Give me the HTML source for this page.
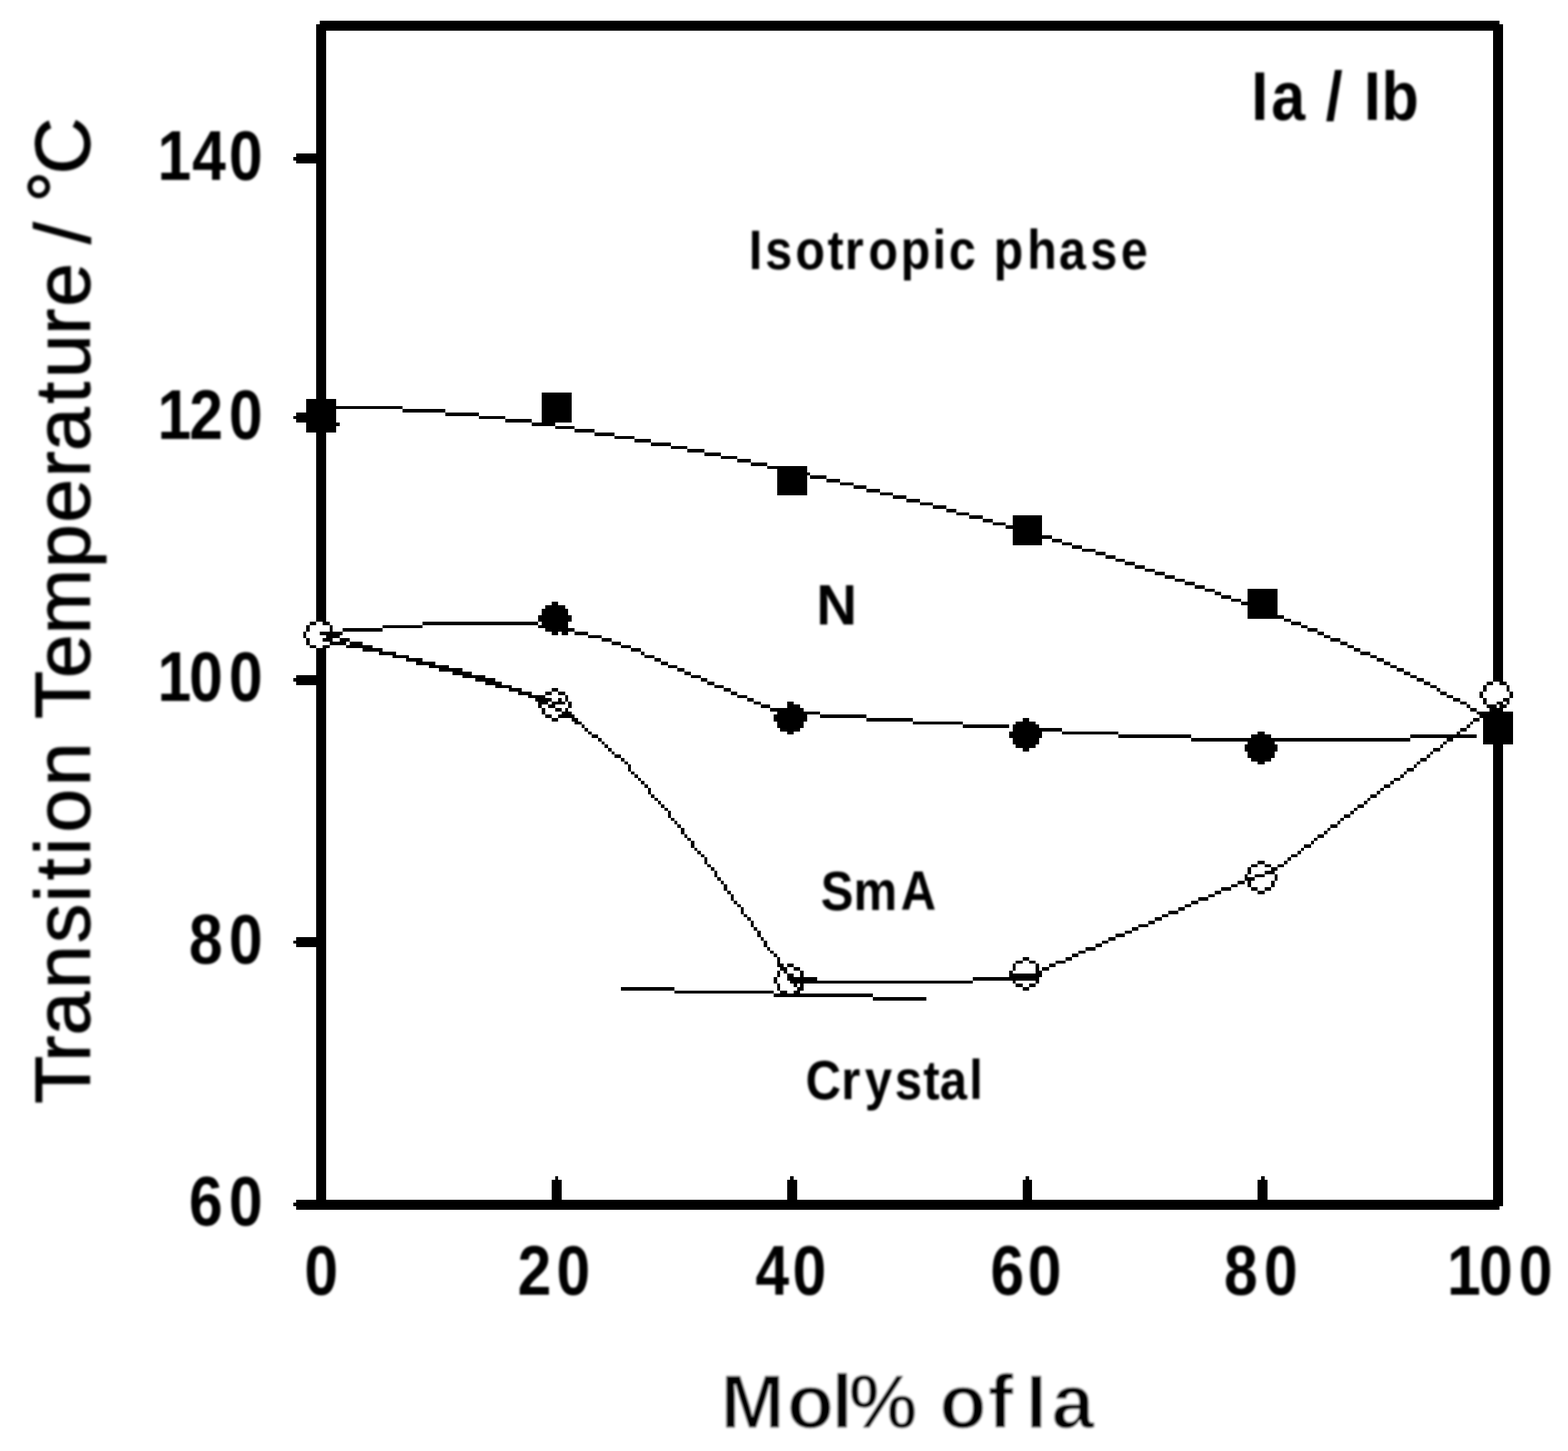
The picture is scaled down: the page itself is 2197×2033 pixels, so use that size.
<!DOCTYPE html>
<html lang="en">
<head>
<meta charset="utf-8">
<title>Phase diagram Ia / Ib</title>
<style>
html,body{margin:0;padding:0;background:#fff;}
body{width:2197px;height:2033px;overflow:hidden;}
svg{display:block;}
text{font-family:"Liberation Sans",Arial,Helvetica,sans-serif;}
</style>
</head>
<body>
<svg xmlns="http://www.w3.org/2000/svg" width="2197" height="2033" viewBox="0 0 2197 2033">
<rect width="2197" height="2033" fill="#fff"/>
<path id="plot" shape-rendering="crispEdges" fill="#000" d="M447.80 29.12h1653.55v4.65h-1653.55zM443.16 33.78h1662.84v9.30h-1662.84zM443.16 43.08h13.93v172.13h-13.93zM415.29 215.21h41.80v4.65h-41.80zM410.64 219.86h46.45v4.65h-46.45zM415.29 224.52h41.80v4.65h-41.80zM443.16 229.17h13.93v330.31h-13.93zM429.22 559.47h41.80v9.30h-41.80zM429.22 568.78h134.70v4.65h-134.70zM563.92 573.43h60.38v4.65h-60.38zM429.22 573.43h41.80v4.65h-41.80zM415.29 578.08h55.74v4.65h-55.74zM624.30 578.08h46.45v4.65h-46.45zM410.64 582.74h60.38v4.65h-60.38zM670.75 582.74h37.16v4.65h-37.16zM759.00 550.17h41.80v41.87h-41.80zM707.91 587.39h37.16v4.65h-37.16zM415.29 587.39h55.74v4.65h-55.74zM745.07 592.04h32.51v4.65h-32.51zM429.22 592.04h46.45v4.65h-46.45zM777.58 596.69h27.87v4.65h-27.87zM429.22 596.69h41.80v9.30h-41.80zM805.45 601.34h27.87v4.65h-27.87zM833.32 606.00h27.87v4.65h-27.87zM861.19 610.65h27.87v4.65h-27.87zM889.06 615.30h23.22v4.65h-23.22zM912.28 619.95h27.87v4.65h-27.87zM940.15 624.60h23.22v4.65h-23.22zM963.37 629.26h23.22v4.65h-23.22zM986.60 633.91h23.22v4.65h-23.22zM1009.82 638.56h23.22v4.65h-23.22zM1033.05 643.21h18.58v4.65h-18.58zM1051.62 647.87h23.22v4.65h-23.22zM1074.85 652.52h55.74v4.65h-55.74zM1088.78 657.17h41.80v4.65h-41.80zM1088.78 661.82h46.45v4.65h-46.45zM1135.23 666.47h23.22v4.65h-23.22zM1158.46 671.13h18.58v4.65h-18.58zM1177.03 675.78h18.58v4.65h-18.58zM1195.61 680.43h18.58v4.65h-18.58zM1214.19 685.08h18.58v4.65h-18.58zM1088.78 666.47h41.80v27.91h-41.80zM1232.77 689.74h18.58v4.65h-18.58zM1251.35 694.39h18.58v4.65h-18.58zM1269.93 699.04h18.58v4.65h-18.58zM1288.51 703.69h18.58v4.65h-18.58zM1307.09 708.34h18.58v4.65h-18.58zM1325.67 713.00h13.93v4.65h-13.93zM1339.60 717.65h18.58v4.65h-18.58zM1358.18 722.30h18.58v4.65h-18.58zM1376.76 726.95h13.93v4.65h-13.93zM1418.56 722.30h41.80v13.96h-41.80zM1390.70 731.61h18.58v4.65h-18.58zM1409.27 736.26h51.09v4.65h-51.09zM1418.56 740.91h41.80v9.30h-41.80zM1418.56 750.21h55.74v4.65h-55.74zM1474.30 754.87h13.93v4.65h-13.93zM1418.56 754.87h41.80v9.30h-41.80zM1488.24 759.52h13.93v4.65h-13.93zM1502.17 764.17h13.93v4.65h-13.93zM1516.10 768.82h18.58v4.65h-18.58zM1534.68 773.48h13.93v4.65h-13.93zM1548.62 778.13h13.93v4.65h-13.93zM1562.55 782.78h13.93v4.65h-13.93zM1576.49 787.43h13.93v4.65h-13.93zM1590.42 792.08h13.93v4.65h-13.93zM1604.36 796.74h13.93v4.65h-13.93zM1618.29 801.39h13.93v4.65h-13.93zM1632.22 806.04h13.93v4.65h-13.93zM1646.16 810.69h13.93v4.65h-13.93zM1660.09 815.35h13.93v4.65h-13.93zM1674.03 820.00h13.93v4.65h-13.93zM1687.96 824.65h13.93v4.65h-13.93zM1701.90 829.30h9.29v4.65h-9.29zM1711.19 833.95h13.93v4.65h-13.93zM1748.34 824.65h41.80v18.61h-41.80zM1725.12 838.61h13.93v4.65h-13.93zM1739.06 843.26h51.09v4.65h-51.09zM772.94 843.26h9.29v4.65h-9.29zM763.65 847.91h27.87v4.65h-27.87zM1748.34 847.91h41.80v13.96h-41.80zM759.00 852.56h37.16v9.30h-37.16zM1748.34 861.87h51.09v4.65h-51.09zM443.16 606.00h13.93v265.18h-13.93zM754.36 861.87h46.45v9.30h-46.45zM1799.44 866.52h9.29v4.65h-9.29zM759.00 871.17h37.16v4.65h-37.16zM433.87 871.17h9.29v4.65h-9.29zM1808.73 871.17h13.93v4.65h-13.93zM452.45 871.17h9.29v4.65h-9.29zM591.79 871.17h162.57v4.65h-162.57zM754.36 875.82h41.80v4.65h-41.80zM536.05 875.82h55.74v4.65h-55.74zM1822.66 875.82h9.29v4.65h-9.29zM461.74 875.82h4.64v9.30h-4.64zM429.22 875.82h4.64v9.30h-4.64zM1831.95 880.48h13.93v4.65h-13.93zM763.65 880.48h41.80v4.65h-41.80zM480.31 880.48h55.74v4.65h-55.74zM772.94 885.13h9.29v4.65h-9.29zM786.87 885.13h9.29v4.65h-9.29zM447.80 885.13h32.51v4.65h-32.51zM805.45 885.13h18.58v4.65h-18.58zM1845.89 885.13h9.29v4.65h-9.29zM424.58 885.13h4.64v9.30h-4.64zM824.03 889.78h18.58v4.65h-18.58zM1855.18 889.78h9.29v4.65h-9.29zM457.09 889.78h18.58v4.65h-18.58zM452.45 894.43h13.93v4.65h-13.93zM842.61 894.43h13.93v4.65h-13.93zM1864.46 894.43h13.93v4.65h-13.93zM475.67 894.43h13.93v4.65h-13.93zM429.22 894.43h4.64v9.30h-4.64zM489.60 899.08h18.58v4.65h-18.58zM1878.40 899.08h9.29v4.65h-9.29zM461.74 899.08h23.22v4.65h-23.22zM856.54 899.08h13.93v4.65h-13.93zM870.48 903.74h13.93v4.65h-13.93zM433.87 903.74h9.29v4.65h-9.29zM484.96 903.74h37.16v4.65h-37.16zM1887.69 903.74h9.29v4.65h-9.29zM452.45 903.74h9.29v4.65h-9.29zM508.18 908.39h27.87v4.65h-27.87zM884.41 908.39h13.93v4.65h-13.93zM1896.98 908.39h9.29v4.65h-9.29zM1906.27 913.04h13.93v4.65h-13.93zM898.35 913.04h4.64v4.65h-4.64zM531.41 913.04h23.22v4.65h-23.22zM902.99 917.69h13.93v4.65h-13.93zM1920.20 917.69h9.29v4.65h-9.29zM549.99 917.69h23.22v4.65h-23.22zM568.57 922.35h23.22v4.65h-23.22zM916.93 922.35h9.29v4.65h-9.29zM1929.49 922.35h9.29v4.65h-9.29zM582.50 927.00h27.87v4.65h-27.87zM926.22 927.00h9.29v4.65h-9.29zM1938.78 927.00h9.29v4.65h-9.29zM1948.07 931.65h9.29v4.65h-9.29zM935.50 931.65h13.93v4.65h-13.93zM601.08 931.65h27.87v4.65h-27.87zM615.01 936.30h32.51v4.65h-32.51zM949.44 936.30h9.29v4.65h-9.29zM1957.36 936.30h9.29v4.65h-9.29zM443.16 908.39h13.93v37.22h-13.93zM1966.65 940.95h9.29v4.65h-9.29zM633.59 940.95h27.87v4.65h-27.87zM958.73 940.95h9.29v4.65h-9.29zM968.02 945.61h13.93v4.65h-13.93zM1975.94 945.61h9.29v4.65h-9.29zM415.29 945.61h41.80v4.65h-41.80zM647.53 945.61h32.51v4.65h-32.51zM2092.06 43.08h13.93v911.83h-13.93zM1985.23 950.26h9.29v4.65h-9.29zM981.95 950.26h9.29v4.65h-9.29zM666.11 950.26h27.87v4.65h-27.87zM410.64 950.26h46.45v4.65h-46.45zM680.04 954.91h23.22v4.65h-23.22zM2101.35 954.91h9.29v4.65h-9.29zM1994.52 954.91h9.29v4.65h-9.29zM991.24 954.91h9.29v4.65h-9.29zM2082.77 954.91h9.29v4.65h-9.29zM415.29 954.91h41.80v4.65h-41.80zM1000.53 959.56h13.93v4.65h-13.93zM693.98 959.56h23.22v4.65h-23.22zM2003.81 959.56h9.29v4.65h-9.29zM2110.64 959.56h4.64v9.30h-4.64zM2078.13 959.56h4.64v9.30h-4.64zM1014.47 964.22h9.29v4.65h-9.29zM2013.10 964.22h4.64v4.65h-4.64zM772.94 964.22h9.29v4.65h-9.29zM712.55 964.22h18.58v4.65h-18.58zM1023.76 968.87h9.29v4.65h-9.29zM726.49 968.87h18.58v4.65h-18.58zM782.23 968.87h9.29v4.65h-9.29zM2017.74 968.87h9.29v4.65h-9.29zM763.65 968.87h9.29v4.65h-9.29zM2073.48 968.87h4.64v9.30h-4.64zM2115.28 968.87h4.64v9.30h-4.64zM740.42 973.52h23.22v4.65h-23.22zM2027.03 973.52h9.29v4.65h-9.29zM1033.05 973.52h13.93v4.65h-13.93zM791.52 973.52h4.64v9.30h-4.64zM2036.32 978.17h9.29v4.65h-9.29zM749.71 978.17h23.22v4.65h-23.22zM1046.98 978.17h9.29v4.65h-9.29zM2105.99 978.17h9.29v4.65h-9.29zM782.23 978.17h4.64v4.65h-4.64zM2078.13 978.17h4.64v9.30h-4.64zM754.36 982.82h13.93v4.65h-13.93zM1056.27 982.82h9.29v4.65h-9.29zM2096.70 982.82h9.29v4.65h-9.29zM772.94 982.82h18.58v4.65h-18.58zM2110.64 982.82h4.64v4.65h-4.64zM1102.72 982.82h9.29v4.65h-9.29zM2045.61 982.82h9.29v4.65h-9.29zM796.16 982.82h4.64v9.30h-4.64zM2082.77 987.48h13.93v4.65h-13.93zM2101.35 987.48h9.29v4.65h-9.29zM768.29 987.48h9.29v4.65h-9.29zM2054.90 987.48h4.64v4.65h-4.64zM1102.72 987.48h18.58v4.65h-18.58zM754.36 987.48h4.64v4.65h-4.64zM1065.56 987.48h13.93v4.65h-13.93zM1079.49 992.13h46.45v4.65h-46.45zM2087.42 992.13h18.58v4.65h-18.58zM2059.55 992.13h9.29v4.65h-9.29zM777.58 992.13h9.29v4.65h-9.29zM791.52 992.13h4.64v4.65h-4.64zM759.00 992.13h4.64v9.30h-4.64zM786.87 996.78h13.93v4.65h-13.93zM1088.78 996.78h60.38v4.65h-60.38zM2068.84 996.78h51.09v4.65h-51.09zM1149.17 1001.43h65.03v4.65h-65.03zM2073.48 1001.43h46.45v4.65h-46.45zM782.23 1001.43h23.22v4.65h-23.22zM763.65 1001.43h9.29v4.65h-9.29zM1084.14 1001.43h46.45v9.30h-46.45zM772.94 1006.09h9.29v4.65h-9.29zM800.81 1006.09h9.29v4.65h-9.29zM1432.50 1006.09h9.29v4.65h-9.29zM2064.19 1006.09h9.29v4.65h-9.29zM1214.19 1006.09h65.03v4.65h-65.03zM2059.55 1010.74h4.64v4.65h-4.64zM805.45 1010.74h9.29v4.65h-9.29zM1279.22 1010.74h69.67v4.65h-69.67zM1423.21 1010.74h27.87v4.65h-27.87zM1088.78 1010.74h37.16v9.30h-37.16zM1348.89 1015.39h65.03v4.65h-65.03zM2054.90 1015.39h4.64v4.65h-4.64zM814.74 1015.39h4.64v4.65h-4.64zM1418.56 1015.39h37.16v4.65h-37.16zM819.38 1020.04h4.64v4.65h-4.64zM1093.43 1020.04h27.87v4.65h-27.87zM1418.56 1020.04h69.67v4.65h-69.67zM2045.61 1020.04h9.29v4.65h-9.29zM2040.97 1024.69h4.64v4.65h-4.64zM1488.24 1024.69h78.96v4.65h-78.96zM824.03 1024.69h4.64v4.65h-4.64zM1762.28 1024.69h9.29v4.65h-9.29zM1102.72 1024.69h9.29v4.65h-9.29zM1413.92 1024.69h46.45v9.30h-46.45zM1975.94 1029.35h92.90v4.65h-92.90zM828.67 1029.35h9.29v4.65h-9.29zM1752.99 1029.35h27.87v4.65h-27.87zM1567.20 1029.35h102.19v4.65h-102.19zM2027.03 1034.00h9.29v4.65h-9.29zM837.96 1034.00h4.64v4.65h-4.64zM1669.38 1034.00h306.56v4.65h-306.56zM2078.13 1006.09h41.80v37.22h-41.80zM1418.56 1034.00h37.16v9.30h-37.16zM2022.39 1038.65h4.64v4.65h-4.64zM1748.34 1038.65h37.16v4.65h-37.16zM842.61 1038.65h4.64v4.65h-4.64zM2017.74 1043.30h4.64v4.65h-4.64zM847.25 1043.30h4.64v4.65h-4.64zM1423.21 1043.30h27.87v4.65h-27.87zM1743.70 1043.30h46.45v9.30h-46.45zM851.90 1047.95h4.64v4.65h-4.64zM2008.45 1047.95h9.29v4.65h-9.29zM1432.50 1047.95h9.29v4.65h-9.29zM2003.81 1052.61h4.64v4.65h-4.64zM856.54 1052.61h4.64v4.65h-4.64zM1748.34 1052.61h37.16v9.30h-37.16zM861.19 1057.26h9.29v4.65h-9.29zM1999.16 1057.26h4.64v4.65h-4.64zM1752.99 1061.91h27.87v4.65h-27.87zM1989.87 1061.91h9.29v4.65h-9.29zM870.48 1061.91h4.64v4.65h-4.64zM1985.23 1066.56h4.64v4.65h-4.64zM875.12 1066.56h4.64v4.65h-4.64zM1762.28 1066.56h9.29v4.65h-9.29zM1980.58 1071.22h4.64v4.65h-4.64zM879.77 1071.22h4.64v9.30h-4.64zM1971.30 1075.87h9.29v4.65h-9.29zM884.41 1080.52h4.64v4.65h-4.64zM1966.65 1080.52h4.64v4.65h-4.64zM889.06 1085.17h4.64v4.65h-4.64zM1962.01 1085.17h4.64v4.65h-4.64zM1952.72 1089.82h9.29v4.65h-9.29zM893.70 1089.82h4.64v4.65h-4.64zM898.35 1094.48h4.64v4.65h-4.64zM1948.07 1094.48h4.64v4.65h-4.64zM1938.78 1099.13h9.29v4.65h-9.29zM902.99 1099.13h4.64v4.65h-4.64zM1934.14 1103.78h4.64v4.65h-4.64zM907.64 1103.78h4.64v9.30h-4.64zM1929.49 1108.43h4.64v4.65h-4.64zM912.28 1113.09h4.64v4.65h-4.64zM1920.20 1113.09h9.29v4.65h-9.29zM1915.56 1117.74h4.64v4.65h-4.64zM916.93 1117.74h4.64v4.65h-4.64zM921.57 1122.39h4.64v4.65h-4.64zM1910.91 1122.39h4.64v4.65h-4.64zM1901.62 1127.04h9.29v4.65h-9.29zM926.22 1127.04h4.64v4.65h-4.64zM930.86 1131.69h4.64v4.65h-4.64zM1896.98 1131.69h4.64v4.65h-4.64zM1892.33 1136.35h4.64v4.65h-4.64zM935.50 1136.35h4.64v9.30h-4.64zM1883.04 1141.00h9.29v4.65h-9.29zM940.15 1145.65h4.64v4.65h-4.64zM1878.40 1145.65h4.64v4.65h-4.64zM1873.75 1150.30h4.64v4.65h-4.64zM944.79 1150.30h4.64v4.65h-4.64zM1864.46 1154.96h9.29v4.65h-9.29zM949.44 1154.96h4.64v4.65h-4.64zM1859.82 1159.61h4.64v4.65h-4.64zM954.08 1159.61h4.64v9.30h-4.64zM1855.18 1164.26h4.64v4.65h-4.64zM1845.89 1168.91h9.29v4.65h-9.29zM958.73 1168.91h4.64v4.65h-4.64zM963.37 1173.56h4.64v4.65h-4.64zM1841.24 1173.56h4.64v4.65h-4.64zM1836.60 1178.22h4.64v4.65h-4.64zM968.02 1178.22h4.64v9.30h-4.64zM1827.31 1182.87h9.29v4.65h-9.29zM1822.66 1187.52h4.64v4.65h-4.64zM972.66 1187.52h4.64v4.65h-4.64zM1818.02 1192.17h4.64v4.65h-4.64zM977.31 1192.17h4.64v4.65h-4.64zM981.95 1196.83h4.64v4.65h-4.64zM1808.73 1196.83h9.29v4.65h-9.29zM1804.08 1201.48h4.64v4.65h-4.64zM986.60 1201.48h4.64v9.30h-4.64zM1799.44 1206.13h4.64v4.65h-4.64zM1762.28 1206.13h9.29v4.65h-9.29zM1771.57 1210.78h9.29v4.65h-9.29zM991.24 1210.78h4.64v4.65h-4.64zM1752.99 1210.78h9.29v4.65h-9.29zM1790.15 1210.78h9.29v4.65h-9.29zM1780.86 1215.43h9.29v4.65h-9.29zM995.89 1215.43h4.64v4.65h-4.64zM1748.34 1215.43h4.64v9.30h-4.64zM1771.57 1220.09h13.93v4.65h-13.93zM1000.53 1220.09h4.64v9.30h-4.64zM1743.70 1224.74h4.64v4.65h-4.64zM1757.63 1224.74h13.93v4.65h-13.93zM1785.50 1224.74h4.64v9.30h-4.64zM1743.70 1229.39h13.93v4.65h-13.93zM1005.18 1229.39h4.64v4.65h-4.64zM1009.82 1234.04h4.64v4.65h-4.64zM1734.41 1234.04h9.29v4.65h-9.29zM1780.86 1234.04h4.64v9.30h-4.64zM1748.34 1234.04h4.64v9.30h-4.64zM1725.12 1238.70h9.29v4.65h-9.29zM1014.47 1238.70h4.64v9.30h-4.64zM1771.57 1243.35h9.29v4.65h-9.29zM1752.99 1243.35h9.29v4.65h-9.29zM1711.19 1243.35h13.93v4.65h-13.93zM1701.90 1248.00h9.29v4.65h-9.29zM1019.11 1248.00h4.64v4.65h-4.64zM1762.28 1248.00h9.29v4.65h-9.29zM1692.61 1252.65h9.29v4.65h-9.29zM1023.76 1252.65h4.64v9.30h-4.64zM1678.67 1257.30h13.93v4.65h-13.93zM1669.38 1261.96h9.29v4.65h-9.29zM1028.40 1261.96h4.64v4.65h-4.64zM1033.05 1266.61h4.64v4.65h-4.64zM1660.09 1266.61h9.29v4.65h-9.29zM1650.80 1271.26h9.29v4.65h-9.29zM1037.69 1271.26h4.64v9.30h-4.64zM1636.87 1275.91h13.93v4.65h-13.93zM1627.58 1280.57h9.29v4.65h-9.29zM1042.34 1280.57h4.64v4.65h-4.64zM1618.29 1285.22h9.29v4.65h-9.29zM1046.98 1285.22h4.64v4.65h-4.64zM1609.00 1289.87h9.29v4.65h-9.29zM1051.62 1289.87h4.64v9.30h-4.64zM1595.07 1294.52h13.93v4.65h-13.93zM1585.78 1299.17h9.29v4.65h-9.29zM1056.27 1299.17h4.64v4.65h-4.64zM1576.49 1303.83h9.29v4.65h-9.29zM443.16 959.56h13.93v353.57h-13.93zM1060.91 1303.83h4.64v9.30h-4.64zM1562.55 1308.48h13.93v4.65h-13.93zM415.29 1313.13h41.80v4.65h-41.80zM1065.56 1313.13h4.64v4.65h-4.64zM1553.26 1313.13h9.29v4.65h-9.29zM1543.97 1317.78h9.29v4.65h-9.29zM410.64 1317.78h46.45v4.65h-46.45zM1070.20 1317.78h4.64v9.30h-4.64zM415.29 1322.43h41.80v4.65h-41.80zM1534.68 1322.43h9.29v4.65h-9.29zM1074.85 1327.09h4.64v4.65h-4.64zM1520.75 1327.09h13.93v4.65h-13.93zM1511.46 1331.74h9.29v4.65h-9.29zM1079.49 1331.74h4.64v4.65h-4.64zM1502.17 1336.39h9.29v4.65h-9.29zM1084.14 1336.39h4.64v4.65h-4.64zM1492.88 1341.04h9.29v4.65h-9.29zM1432.50 1341.04h9.29v4.65h-9.29zM1088.78 1341.04h4.64v9.30h-4.64zM1441.79 1345.70h9.29v4.65h-9.29zM1478.95 1345.70h13.93v4.65h-13.93zM1423.21 1345.70h9.29v4.65h-9.29zM1102.72 1350.35h9.29v4.65h-9.29zM1469.66 1350.35h9.29v4.65h-9.29zM1088.78 1350.35h9.29v4.65h-9.29zM1451.08 1350.35h4.64v9.30h-4.64zM1418.56 1350.35h4.64v9.30h-4.64zM1460.37 1355.00h9.29v4.65h-9.29zM1112.01 1355.00h9.29v4.65h-9.29zM1093.43 1355.00h9.29v4.65h-9.29zM1098.07 1359.65h4.64v4.65h-4.64zM1413.92 1359.65h4.64v4.65h-4.64zM1451.08 1359.65h9.29v4.65h-9.29zM1121.30 1359.65h4.64v9.30h-4.64zM1088.78 1359.65h4.64v9.30h-4.64zM1102.72 1364.30h9.29v4.65h-9.29zM1413.92 1364.30h46.45v4.65h-46.45zM1362.83 1368.96h92.90v4.65h-92.90zM1102.72 1368.96h41.80v4.65h-41.80zM1084.14 1368.96h4.64v9.30h-4.64zM1107.36 1373.61h255.46v4.65h-255.46zM1451.08 1373.61h4.64v4.65h-4.64zM1418.56 1373.61h4.64v4.65h-4.64zM1441.79 1378.26h9.29v4.65h-9.29zM1423.21 1378.26h9.29v4.65h-9.29zM1112.01 1378.26h4.64v4.65h-4.64zM1121.30 1378.26h4.64v4.65h-4.64zM1088.78 1378.26h4.64v9.30h-4.64zM870.48 1382.91h74.32v4.65h-74.32zM1116.65 1382.91h9.29v4.65h-9.29zM1432.50 1382.91h9.29v4.65h-9.29zM1112.01 1387.57h9.29v4.65h-9.29zM944.79 1387.57h139.34v4.65h-139.34zM1093.43 1387.57h9.29v4.65h-9.29zM1084.14 1392.22h139.34v4.65h-139.34zM1223.48 1396.87h74.32v4.65h-74.32zM1107.36 1648.09h4.64v4.65h-4.64zM777.58 1648.09h4.64v4.65h-4.64zM1766.92 1648.09h4.64v4.65h-4.64zM1437.14 1648.09h4.64v4.65h-4.64zM2092.06 1043.30h13.93v637.35h-13.93zM443.16 1327.09h13.93v353.57h-13.93zM1762.28 1652.74h13.93v27.91h-13.93zM1432.50 1652.74h13.93v27.91h-13.93zM1102.72 1652.74h13.93v27.91h-13.93zM772.94 1652.74h13.93v27.91h-13.93zM415.29 1680.65h1690.71v4.65h-1690.71zM410.64 1685.31h1695.35v4.65h-1695.35zM415.29 1689.96h1686.06v4.65h-1686.06z"/>
<defs><filter id="soft" x="-5%" y="-5%" width="110%" height="110%"><feGaussianBlur stdDeviation="1.7"/></filter></defs>
<g font-family="'Liberation Sans', Arial, Helvetica, sans-serif" fill="#000" filter="url(#soft)">
<text transform="translate(0 251.5) scale(0.8700 1.0000)" font-size="97.5" font-weight="bold" x="253.8 309.5 368.6">140</text>
<text transform="translate(0 614.7) scale(0.8700 1.0000)" font-size="97.5" font-weight="bold" x="253.8 304.8 368.6">120</text>
<text transform="translate(0 982.0) scale(0.8700 1.0000)" font-size="97.5" font-weight="bold" x="253.8 304.6 368.6">100</text>
<text transform="translate(0 1349.7) scale(0.8700 1.0000)" font-size="97.5" font-weight="bold" x="304.4 368.6">80</text>
<text transform="translate(0 1716.5) scale(0.8700 1.0000)" font-size="97.5" font-weight="bold" x="304.4 368.6">60</text>
<text transform="translate(0 1814.3) scale(0.8700 1.0000)" font-size="97.5" font-weight="bold" x="490.2">0</text>
<text transform="translate(0 1814.3) scale(0.8700 1.0000)" font-size="97.5" font-weight="bold" x="833.5 896.4">20</text>
<text transform="translate(0 1814.3) scale(0.8700 1.0000)" font-size="97.5" font-weight="bold" x="1216.7 1276.3">40</text>
<text transform="translate(0 1814.3) scale(0.8700 1.0000)" font-size="97.5" font-weight="bold" x="1595.0 1655.1">60</text>
<text transform="translate(0 1814.3) scale(0.8700 1.0000)" font-size="97.5" font-weight="bold" x="1971.4 2035.6">80</text>
<text transform="translate(0 1814.3) scale(0.8700 1.0000)" font-size="97.5" font-weight="bold" x="2330.5 2381.9 2445.9">100</text>
<text transform="translate(0 377.0) scale(0.8800 1.0000)" font-size="77.0" font-weight="bold" x="1192.2 1218.5 1266.6 1317.5 1345.2 1382.7 1434.2 1484.9 1510.7 1553.5 1582.1 1635.5 1686.2 1736.1 1784.8">Isotropic phase</text>
<text transform="translate(0 168.0) scale(0.8800 1.0000)" font-size="97.0" font-weight="bold" x="1992.3 2024.2 2078.1 2110.7 2137.6 2171.6 2199.7">Ia / Ib</text>
<text transform="translate(0 875.0) scale(1.0000 1.0000)" font-size="79.0" font-weight="bold" x="1143.8">N</text>
<text transform="translate(0 1274.8) scale(0.8800 1.0000)" font-size="78.0" font-weight="bold" x="1306.7 1359.1 1434.1">SmA</text>
<text transform="translate(0 1539.6) scale(0.8800 1.0000)" font-size="78.0" font-weight="bold" x="1282.8 1339.4 1377.1 1424.7 1470.1 1496.4 1543.3">Crystal</text>
<text transform="translate(0 2000.5) scale(1.0000 1.0000)" font-size="108.0" font-weight="bold" x="1009.6 1102.4 1164.9 1189.2 1285.3 1316.3 1384.0 1420.0 1436.9 1473.2" stroke="#fff" stroke-width="1.6">Mol% of Ia</text>
<text transform="translate(126.0 0) rotate(-90) scale(1.0600 1.0500)" font-size="104.0" font-weight="normal" x="-1459.0 -1403.4 -1368.7 -1307.1 -1246.5 -1192.7 -1163.6 -1130.4 -1100.6 -1039.2 -981.4 -950.3 -896.4 -838.5 -750.8 -690.9 -631.1 -596.3 -533.7 -499.9 -442.6 -405.6 -347.8 -322.4 -293.5 -267.6 -230.6" y="0.0 0.0 0.0 0.0 0.0 0.0 0.0 0.0 0.0 0.0 0.0 0.0 0.0 0.0 0.0 0.0 0.0 0.0 0.0 0.0 0.0 0.0 0.0 0.0 0.0 -9.5 0.0" stroke="#000" stroke-width="1.2">Transition Temperature / °C</text>
</g>
</svg>
</body>
</html>
